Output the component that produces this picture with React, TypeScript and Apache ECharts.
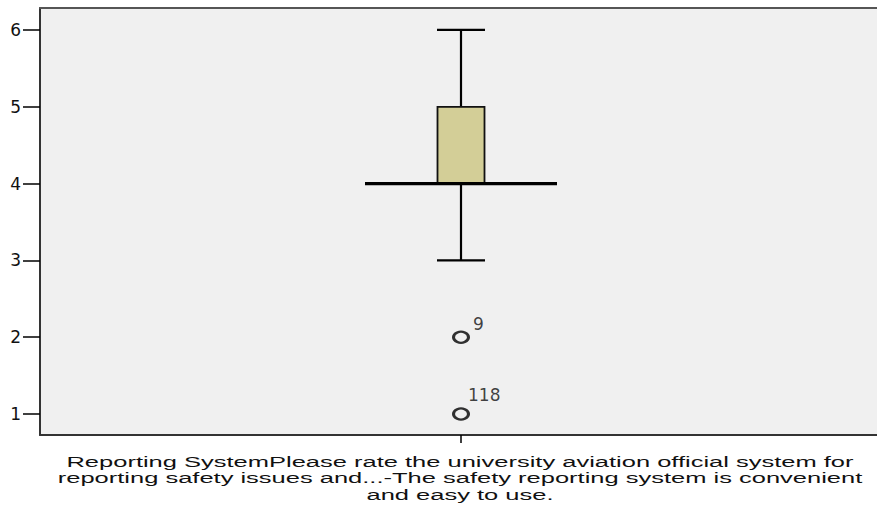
import React, { useEffect, useRef } from "react";
import * as echarts from "echarts";

// ---- data ----
const categories = [
  "Reporting SystemPlease rate the university aviation official system for reporting safety issues and...-The safety reporting system is convenient and easy to use.",
];
const xLabelLines = [
  "Reporting SystemPlease rate the university aviation official system for",
  "reporting safety issues and...-The safety reporting system is convenient",
  "and easy to use.",
];
const whiskerLow = [3];
const q1 = [4];
const median = [4];
const q3 = [5];
const whiskerHigh = [6];
const outlierValues = [2, 1];
const outlierIds = ["9", "118"];
const yTicks = [1, 2, 3, 4, 5, 6];

// label offsets (style only)
const outlierLabelOffsets = [
  [12, -13],
  [7, -19],
];

export default function App() {
  const ref = useRef<HTMLDivElement>(null);

  useEffect(() => {
    if (!ref.current) return;
    const chart = echarts.init(ref.current, null, { renderer: "svg" });

    const boxData = categories.map((_, i) => [
      i,
      whiskerLow[i],
      q1[i],
      median[i],
      q3[i],
      whiskerHigh[i],
    ]);

    const outlierData = outlierValues.map((v, i) => ({
      value: [0, v],
      label: {
        show: true,
        formatter: outlierIds[i],
        position: "inside",
        align: "left",
        verticalAlign: "middle",
        offset: outlierLabelOffsets[i],
      },
    }));

    const option: any = {
      animation: false,
      backgroundColor: "#ffffff",
      grid: {
        left: 40,
        top: 8,
        width: 842,
        bottom: 71,
        outerBoundsMode: "none",
        show: false,
      },
      xAxis: [
        {
          type: "category",
          data: categories,
          boundaryGap: true,
          axisLine: { show: true, lineStyle: { color: "#333333", width: 2 } },
          axisTick: { show: true, alignWithLabel: true, length: 8, lineStyle: { color: "#000", width: 1.5 } },
          axisLabel: { show: false },
          splitLine: { show: false },
          splitArea: { show: true, areaStyle: { color: ["#f0f0f0"] } },
        },
        {
          type: "category",
          position: "top",
          data: categories,
          boundaryGap: true,
          axisLine: { show: true, lineStyle: { color: "#555555", width: 2 } },
          axisTick: { show: false },
          axisLabel: { show: false },
          splitLine: { show: false },
        },
      ],
      yAxis: {
        type: "value",
        min: 0.727,
        max: 6.286,
        axisLine: { show: true, lineStyle: { color: "#333333", width: 2 } },
        axisTick: {
          show: true,
          length: 17,
          customValues: yTicks,
          lineStyle: { color: "#000", width: 1.5 },
        },
        axisLabel: {
          show: true,
          customValues: yTicks,
          margin: 19,
          fontFamily: "DejaVu Sans",
          fontSize: 17,
          color: "#111",
        },
        splitLine: { show: false },
      },
      series: [
        {
          type: "custom",
          data: boxData,
          encode: { x: 0, y: [1, 2, 3, 4, 5] },
          renderItem: (params: any, api: any) => {
            const xi = api.value(0);
            const pLow = api.coord([xi, api.value(1)]);
            const pQ1 = api.coord([xi, api.value(2)]);
            const pMed = api.coord([xi, api.value(3)]);
            const pQ3 = api.coord([xi, api.value(4)]);
            const pHigh = api.coord([xi, api.value(5)]);
            const cx = pLow[0];
            const boxHalf = 23.5;
            const capHalf = 24;
            const medHalf = 96;
            const lineStyle = { stroke: "#000", lineWidth: 2.2 };
            return {
              type: "group",
              children: [
                {
                  type: "line",
                  shape: { x1: cx, y1: pQ3[1], x2: cx, y2: pHigh[1] },
                  style: lineStyle,
                },
                {
                  type: "line",
                  shape: { x1: cx, y1: pQ1[1], x2: cx, y2: pLow[1] },
                  style: lineStyle,
                },
                {
                  type: "line",
                  shape: { x1: cx - capHalf, y1: pHigh[1], x2: cx + capHalf, y2: pHigh[1] },
                  style: lineStyle,
                },
                {
                  type: "line",
                  shape: { x1: cx - capHalf, y1: pLow[1], x2: cx + capHalf, y2: pLow[1] },
                  style: lineStyle,
                },
                {
                  type: "rect",
                  shape: {
                    x: cx - boxHalf,
                    y: pQ3[1],
                    width: boxHalf * 2,
                    height: pQ1[1] - pQ3[1],
                  },
                  style: { fill: "#d3ce97", stroke: "#111", lineWidth: 1.8 },
                },
                {
                  type: "line",
                  shape: { x1: cx - medHalf, y1: pMed[1], x2: cx + medHalf, y2: pMed[1] },
                  style: { stroke: "#000", lineWidth: 3.2 },
                },
              ],
            };
          },
          z: 2,
        },
        {
          type: "scatter",
          data: outlierData,
          symbol: "circle",
          symbolSize: [15, 11],
          itemStyle: {
            color: "rgba(0,0,0,0)",
            borderColor: "#000",
            borderWidth: 2.6,
          },
          label: {
            fontFamily: "DejaVu Sans",
            fontSize: 17,
            color: "#111",
          },
          z: 3,
        },
      ],
      graphic: [
        {
          type: "text",
          x: 460,
          y: 453,
          scaleX: 1.7,
          style: {
            text: xLabelLines.join("\n"),
            fontFamily: "Liberation Sans, Arial, sans-serif",
            fontSize: 15,
            lineHeight: 16.5,
            align: "center",
            verticalAlign: "top",
            fill: "#111",
          },
        },
      ],
    };

    chart.setOption(option);
    return () => chart.dispose();
  }, []);

  return <div ref={ref} style={{ width: 877, height: 506, position: "absolute", left: 0, top: 0 }} />;
}
